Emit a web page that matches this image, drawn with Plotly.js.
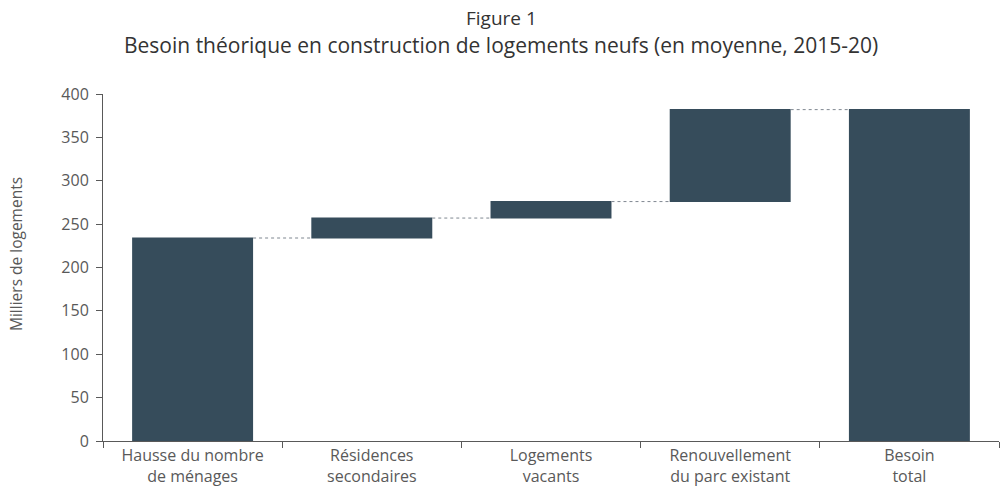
<!DOCTYPE html>
<html>
<head>
<meta charset="utf-8">
<script src="https://cdn.plot.ly/plotly-3.0.1.min.js"></script>
<style>html,body{margin:0;padding:0;background:#fff;}#chart{width:1003px;height:487px;}</style>
</head>
<body>
<div id="chart"></div>
<script>
const categories = ["Hausse du nombre<br>de ménages", "Résidences<br>secondaires", "Logements<br>vacants", "Renouvellement<br>du parc existant", "Besoin<br>total"];
const values = [234, 23, 19, 106, 0];
const measures = ["relative", "relative", "relative", "relative", "total"];
const yTicks = [0, 50, 100, 150, 200, 250, 300, 350, 400];
const titleLine1 = "Figure 1";
const titleLine2 = "Besoin théorique en construction de logements neufs (en moyenne, 2015-20)";
const yTitle = "Milliers de logements";

const barColor = "#364c5b";
const trace = {
  type: "waterfall",
  x: categories,
  y: values,
  measure: measures,
  textinfo: "none",
  hoverinfo: "skip",
  increasing: {marker: {color: barColor}},
  decreasing: {marker: {color: barColor}},
  totals: {marker: {color: barColor}},
  connector: {mode: "between", line: {color: "#7f8790", width: 1, dash: "dot"}}
};

const font = "Open Sans, sans-serif";
const layout = {
  width: 1003, height: 487,
  margin: {l: 103, r: 4, t: 94, b: 46},
  paper_bgcolor: "#fff", plot_bgcolor: "#fff",
  font: {family: font, color: "#595959", size: 16},
  showlegend: false,
  waterfallgap: 0.325,
  annotations: [
    {text: titleLine1, xref: "paper", yref: "paper", x: (501 - 103) / 896, xanchor: "center",
     y: 1 + (94 - 18) / 347, yanchor: "middle", showarrow: false,
     font: {family: font, size: 19, color: "#333"}},
    {text: titleLine2, xref: "paper", yref: "paper", x: (501 - 103) / 896, xanchor: "center",
     y: 1 + (94 - 45) / 347, yanchor: "middle", showarrow: false,
     font: {family: font, size: 21, color: "#333"}},
    {text: yTitle, xref: "paper", yref: "paper", x: (16 - 103) / 896, xanchor: "center",
     y: (441 - 254) / 347, yanchor: "middle", textangle: -90, showarrow: false,
     font: {family: font, size: 15.5, color: "#595959"}}
  ],
  xaxis: {
    showline: true, linecolor: "#595959", linewidth: 1,
    ticks: "outside", tickson: "boundaries", ticklen: 6, tickcolor: "#595959",
    tickfont: {size: 16, color: "#595959"},
    showgrid: false, zeroline: false, fixedrange: true
  },
  yaxis: {
    range: [0, 400], tickvals: yTicks,
    showline: true, linecolor: "#595959", linewidth: 1,
    ticks: "outside", ticklen: 6, tickcolor: "#595959", ticklabelstandoff: 4,
    tickfont: {size: 16, color: "#595959"},
    showgrid: false, zeroline: false, fixedrange: true
  }
};

Plotly.newPlot("chart", [trace], layout, {displayModeBar: false, staticPlot: true});
</script>
</body>
</html>
